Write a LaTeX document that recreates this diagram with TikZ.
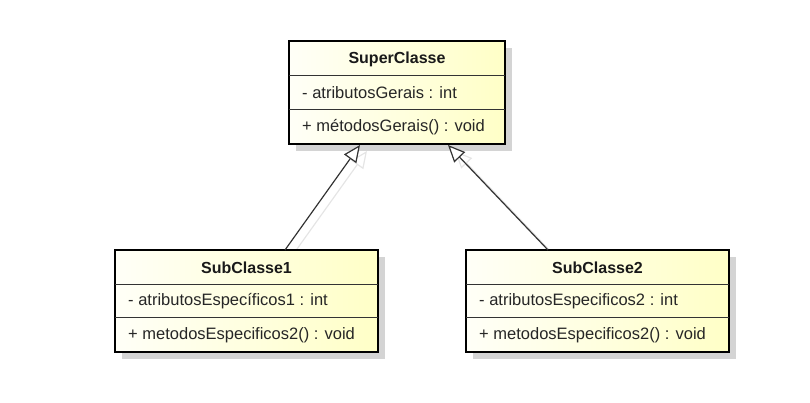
\documentclass[tikz,border=0pt]{standalone}
\usepackage{fontspec}
\setmainfont{Liberation Sans}
\usetikzlibrary{arrows.meta,calc,shadows}
\pgfdeclarelayer{bg}
\pgfsetlayers{bg,main}
\begin{document}
\begin{tikzpicture}[x=1pt,y=-1pt,
  classbox/.style={draw=black, line width=2pt, left color=yellow!3, right color=yellow!22,
    inner sep=0pt, outer sep=0pt, anchor=north west,
    drop shadow={shadow xshift=7pt, shadow yshift=-7pt, fill=black!17, opacity=1}},
  divider/.style={draw=black!80, line width=1pt},
  ctitle/.style={font=\fontsize{16}{18}\selectfont\bfseries, text=black!90, inner sep=0pt},
  member/.style={font=\fontsize{16.5}{18}\selectfont, text=black!85, inner sep=0pt, anchor=west},
  gen/.style={draw=black!80, line width=1.2pt, -{Triangle[open, length=17pt, width=15pt, fill=white]}},
  genshadow/.style={draw=black!10, line width=1.2pt, -{Triangle[open, length=17pt, width=15pt]}}
]
\useasboundingbox (0,0) rectangle (810,402);

% classes
\node[classbox, minimum width=216pt, minimum height=103pt] (super) at (289,41) {};
\node[classbox, minimum width=263pt, minimum height=102pt] (sub1) at (115,250) {};
\node[classbox, minimum width=263pt, minimum height=102pt] (sub2) at (466,250) {};

% compartments
\foreach \n/\a/\b in {super/34/68, sub1/34/67, sub2/34/67}{
  \draw[divider] ($(\n.north west)+(0,\a)$) -- ($(\n.north east)+(0,\a)$);
  \draw[divider] ($(\n.north west)+(0,\b)$) -- ($(\n.north east)+(0,\b)$);
}

% texts
\node[ctitle] (supert) at ($(super.north)+(0,18)$) {SuperClasse};
\node[member] (supera) at ($(super.north west)+(13,52)$) {- atributosGerais : int};
\node[member] (superm) at ($(super.north west)+(13,86)$) {+ métodosGerais() : void};

\node[ctitle] (sub1t) at ($(sub1.north)+(0,18)$) {SubClasse1};
\node[member] (sub1a) at ($(sub1.north west)+(13,51)$) {- atributosEspecíficos1 : int};
\node[member] (sub1m) at ($(sub1.north west)+(13,85)$) {+ metodosEspecificos2() : void};

\node[ctitle] (sub2t) at ($(sub2.north)+(0,18)$) {SubClasse2};
\node[member] (sub2a) at ($(sub2.north west)+(13,51)$) {- atributosEspecificos2 : int};
\node[member] (sub2m) at ($(sub2.north west)+(13,85)$) {+ metodosEspecificos2() : void};

% generalization shadows
\begin{pgfonlayer}{bg}
\draw[genshadow] ($(sub1.north west)+(177,6)$) -- ($(super.south west)+(78,7)$);
\draw[genshadow] ($(sub2.north west)+(89,6)$) -- ($(super.south west)+(166,7)$);
\end{pgfonlayer}

% generalizations
\draw[gen] ($(sub1.north west)+(170,0)$) -- ($(super.south west)+(71,1)$);
\draw[gen] ($(sub2.north west)+(82,0)$) -- ($(super.south west)+(159,1)$);
\end{tikzpicture}
\end{document}
